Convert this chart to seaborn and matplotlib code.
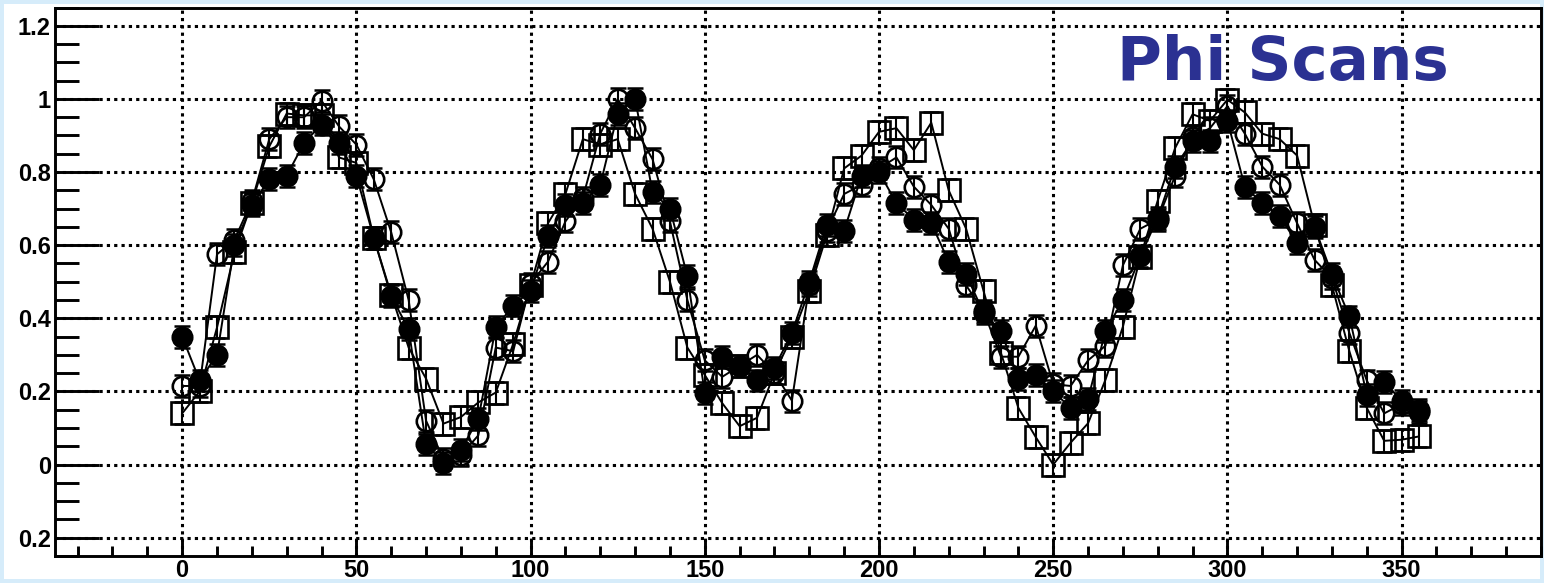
import numpy as np
import pandas as pd
import matplotlib
matplotlib.use("Agg")
import matplotlib.pyplot as plt
from matplotlib.ticker import MultipleLocator, FixedLocator, FixedFormatter
import seaborn as sns

# ---------------------------------------------------------------- DATA
PHI = list(range(0, 360, 5))

FILLED = [0.35, 0.23, 0.30, 0.60, 0.71, 0.78, 0.79, 0.88, 0.93, 0.88,
          0.79, 0.62, 0.46, 0.37, 0.055, 0.005, 0.04, 0.125, 0.375, 0.435,
          0.475, 0.625, 0.71, 0.715, 0.765, 0.96, 1.00, 0.745, 0.70, 0.515,
          0.195, 0.295, 0.27, 0.23, 0.265, 0.36, 0.50, 0.655, 0.64, 0.79,
          0.80, 0.715, 0.67, 0.66, 0.555, 0.52, 0.415, 0.365, 0.235, 0.245,
          0.20, 0.155, 0.18, 0.365, 0.45, 0.57, 0.675, 0.815, 0.885, 0.885,
          0.94, 0.76, 0.715, 0.68, 0.605, 0.65, 0.52, 0.405, 0.19, 0.225,
          0.175, 0.15]

OPEN = [0.215, 0.215, 0.575, 0.615, 0.72, 0.89, 0.95, 0.95, 0.995, 0.925,
        0.875, 0.78, 0.635, 0.45, 0.12, 0.015, 0.025, 0.08, 0.32, 0.31,
        0.495, 0.555, 0.665, 0.73, 0.905, 1.00, 0.92, 0.835, 0.665, 0.45,
        0.285, 0.24, 0.27, 0.30, 0.25, 0.175, 0.49, 0.64, 0.74, 0.765,
        0.81, 0.84, 0.76, 0.71, 0.645, 0.49, 0.42, 0.295, 0.295, 0.38,
        0.22, 0.215, 0.285, 0.325, 0.545, 0.645, 0.67, 0.79, 0.895, 0.92,
        0.98, 0.905, 0.815, 0.765, 0.66, 0.56, 0.51, 0.36, 0.23, 0.14,
        0.165, 0.145]

SQUARE = [0.14, 0.20, 0.375, 0.58, 0.715, 0.87, 0.96, 0.955, 0.955, 0.84,
          0.825, 0.62, 0.465, 0.32, 0.235, 0.112, 0.13, 0.17, 0.197, 0.33,
          0.49, 0.66, 0.74, 0.89, 0.875, 0.89, 0.74, 0.645, 0.50, 0.32,
          0.245, 0.168, 0.105, 0.128, 0.25, 0.35, 0.475, 0.628, 0.81, 0.845,
          0.91, 0.92, 0.86, 0.935, 0.75, 0.645, 0.475, 0.305, 0.155, 0.075,
          0.0, 0.06, 0.113, 0.232, 0.377, 0.568, 0.722, 0.866, 0.958, 0.94,
          0.998, 0.963, 0.905, 0.89, 0.845, 0.655, 0.49, 0.31, 0.155, 0.065,
          0.068, 0.077]

ERR = 0.03

Y_TICKS = [-0.2, 0.0, 0.2, 0.4, 0.6, 0.8, 1.0, 1.2]
Y_LABELS = ["0.2", "0", "0.2", "0.4", "0.6", "0.8", "1", "1.2"]
X_TICKS = [0, 50, 100, 150, 200, 250, 300, 350]
TITLE = "Phi Scans"

# ---------------------------------------------------------------- STYLE
sns.set_style("ticks")
plt.rcParams["font.family"] = ["Liberation Sans", "DejaVu Sans"]

W, H = 1544, 583
fig = plt.figure(figsize=(W / 100, H / 100), dpi=100,
                 facecolor="white", edgecolor="#d6ecfa", linewidth=4.5)
ax = fig.add_axes([55 / W, 1 - 556 / H, (1541 - 55) / W, (556 - 7.5) / H])

series = [
    ("square", SQUARE, "s", 16, "none"),
    ("open", OPEN, "o", 14, "none"),
    ("filled", FILLED, "o", 14, "black"),
]
for name, vals, mk, ms, mfc in series:
    ax.errorbar(PHI, vals, yerr=ERR, fmt="none", ecolor="black",
                elinewidth=1.5, capsize=5.5, capthick=1.8, zorder=3)
    sns.lineplot(x=PHI, y=vals, ax=ax, color="black", linewidth=1.4,
                 marker=mk, markersize=ms, markerfacecolor=mfc,
                 markeredgecolor="black", markeredgewidth=1.9,
                 estimator=None, sort=False, zorder=4)

ax.set_xlim(-36.5, 390)
ax.set_ylim(-0.25, 1.25)

ax.xaxis.set_major_locator(FixedLocator(X_TICKS))
ax.xaxis.set_minor_locator(MultipleLocator(10))
ax.yaxis.set_major_locator(FixedLocator(Y_TICKS))
ax.yaxis.set_major_formatter(FixedFormatter(Y_LABELS))
ax.yaxis.set_minor_locator(MultipleLocator(0.05))

ax.tick_params(which="both", left=True, bottom=True, right=False, top=False)
ax.tick_params(axis="y", which="major", direction="in", length=32, width=2.1,
               pad=3, labelsize=17, colors="black")
ax.tick_params(axis="y", which="minor", direction="in", length=17, width=2.1,
               colors="black")
ax.tick_params(axis="x", which="major", direction="in", length=12, width=2.1,
               pad=2, labelsize=17, colors="black")
ax.tick_params(axis="x", which="minor", direction="in", length=7, width=2.1,
               colors="black")
for lab in ax.get_xticklabels() + ax.get_yticklabels():
    lab.set_fontweight("bold")

ax.grid(which="major", color="black", linestyle=(0, (1.05, 1.35)), linewidth=2.2)
ax.set_axisbelow(True)
for sp in ax.spines.values():
    sp.set_visible(True)
    sp.set_linewidth(2.1)
    sp.set_color("black")
ax.set_xlabel("")
ax.set_ylabel("")

fig.text(1117 / W, 1 - 80 / H, TITLE, family="DejaVu Sans", fontweight="bold",
         fontsize=44, color="#2b3192", ha="left", va="baseline")

fig.savefig("out.png", dpi=100, facecolor=fig.get_facecolor(),
            edgecolor=fig.get_edgecolor())
